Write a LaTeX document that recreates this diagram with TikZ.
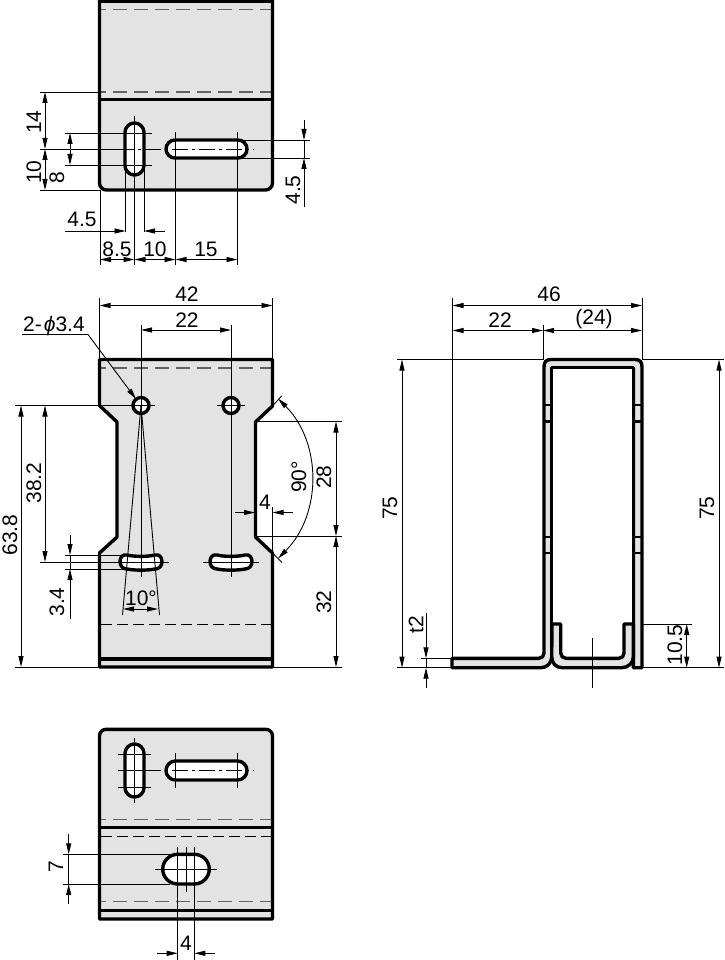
\documentclass[tikz,border=0pt]{standalone}
\usepackage{fontspec}
\setmainfont{Liberation Sans}
\usetikzlibrary{arrows.meta}
\definecolor{plate}{HTML}{E3E3E3}
\tikzset{
  x=1pt,y=-1pt,
  body/.style={fill=plate,draw=none},
  hole/.style={fill=white,draw=none},
  outline/.style={draw=black,line width=3.4pt,line join=round},
  thin/.style={draw=black,line width=0.9pt},
  fold/.style={draw=black!62,line width=1.4pt,dash pattern=on 14pt off 7pt,dash phase=9pt},
  hid/.style={draw=black,line width=0.9pt,dash pattern=on 11pt off 5pt},
  cen/.style={draw=black,line width=0.9pt,dash pattern=on 16pt off 4pt on 3pt off 4pt},
  dimen/.style={draw=black,line width=0.9pt,{Triangle[length=11pt,width=5pt]}-{Triangle[length=11pt,width=5pt]}},
  onehead/.style={draw=black,line width=0.9pt,-{Triangle[length=11pt,width=5pt]}},
  lab/.style={inner sep=0pt,font=\fontsize{21}{21}\selectfont},
  vlab/.style={lab,rotate=90},
}
\newcommand{\bananashape}{(127,555) .. controls (134,556.8) and (148,556.8) .. (155,555) .. controls (159,554) and (162,557) .. (162,561.5) .. controls (162,566) and (159,569) .. (155,569) .. controls (148,570.5) and (134,570.5) .. (127,569) .. controls (123,569) and (120,566) .. (120,561.5) .. controls (120,557) and (123,554) .. (127,555) -- cycle}
\newcommand{\lowerplate}{(99.5,919) -- (99.5,736) .. controls (99.5,732) and (102.5,729.3) .. (106.5,729.3) -- (265.5,729.3) .. controls (269.5,729.3) and (272.5,732) .. (272.5,736) -- (272.5,919) -- cycle}
\begin{document}
\begin{tikzpicture}
\useasboundingbox (0,0) rectangle (724,960);
\fill[white] (0,0) rectangle (724,960);

% ---------- top view ----------
\path[body,rounded corners=7pt] (99.5,-10) -- (99.5,190) -- (272.5,190) -- (272.5,-10) -- cycle;
\path[hole,rounded corners=9.5pt] (125,123) rectangle (144,175);
\path[hole,rounded corners=9pt] (166,140) rectangle (247,158);
\draw[fold] (101,9.5) -- (271,9.5);
\draw[fold] (101,92) -- (271,92);
% extension lines
\draw[thin] (40,92) -- (99,92);
\draw[thin] (40,190) -- (100,190);
\draw[thin] (40,149) -- (118,149);
\draw[cen] (118,149) -- (254,149);
\draw[thin] (65,133) -- (152,133);
\draw[thin] (65,165) -- (152,165);
\draw[thin] (240,140) -- (310,140);
\draw[thin] (240,158) -- (310,158);
\draw[thin] (134.5,116) -- (134.5,265);
\draw[thin] (125.5,170) -- (125.5,232);
\draw[thin] (144,170) -- (144,232);
\draw[thin] (100,190) -- (100,265);
\draw[thin] (175.5,132) -- (175.5,265);
\draw[thin] (237.5,132) -- (237.5,265);
% dimensions
\draw[dimen] (45,92) -- (45,149);
\draw[dimen] (45,149) -- (45,190);
\draw[dimen] (70,133) -- (70,165);
\draw[thin] (304,140) -- (304,158);
\draw[onehead] (304,120) -- (304,140);
\draw[onehead] (304,207) -- (304,158);
\draw[onehead] (65,231) -- (125.5,231);
\draw[onehead] (165,231) -- (144,231);
\draw[dimen] (100,259.5) -- (134.5,259.5);
\draw[dimen] (134.5,259.5) -- (175.5,259.5);
\draw[dimen] (175.5,259.5) -- (237.5,259.5);
\node[vlab] (t14) at (34,122) {14};
\node[vlab] (t10) at (34,172) {10};
\node[vlab] (t8) at (57,178) {8};
\node[vlab] (t45a) at (293,190) {4.5};
\node[lab] (t45b) at (82,219) {4.5};
\node[lab] (t85) at (117,249) {8.5};
\node[lab] (t10b) at (155,249) {10};
\node[lab] (t15) at (206,249) {15};
% outlines
\draw[outline,rounded corners=7pt] (99.5,-10) -- (99.5,190) -- (272.5,190) -- (272.5,-10);
\draw[outline] (98,1.2) -- (274,1.2);
\draw[outline] (99.5,99.5) -- (272.5,99.5);
\draw[outline,rounded corners=9.5pt] (125,123) rectangle (144,175);
\draw[outline,rounded corners=9pt] (166,140) rectangle (247,158);

% ---------- front view ----------
\path[body] (99.5,359.5) -- (99.5,405.5) -- (117,422) -- (117,537) -- (99.5,553) -- (99.5,667) -- (272.5,667) -- (272.5,553) -- (255.5,537) -- (255.5,422) -- (272.5,406) -- (272.5,359.5) -- cycle;
\path[hole] (141,405.5) circle[radius=8];
\path[hole] (231,405.5) circle[radius=8];
\path[hole] \bananashape;
\path[hole,shift={(90,0)}] \bananashape;
\draw[fold] (101,368) -- (271,368);
\draw[hid] (101,624.5) -- (271,624.5);
% centre and extension lines
\draw[thin] (141,325) -- (141,577);
\draw[thin] (231,325) -- (231,577);
\draw[thin] (15,405.5) -- (155,405.5);
\draw[thin] (217,405.5) -- (245,405.5);
\draw[thin] (15,667) -- (100,667);
\draw[thin] (40,562) -- (130,562);
\draw[thin] (65,555) -- (125,555);
\draw[thin] (65,569) -- (125,569);
\draw[thin] (113,562) -- (169,562);
\draw[thin] (203,562) -- (259,562);
\draw[thin] (99.5,298) -- (99.5,359);
\draw[thin] (272.5,298) -- (272.5,359);
\draw[thin] (256,421.5) -- (342,421.5);
\draw[thin] (256,536) -- (342,536);
\draw[thin] (272,667) -- (342,667);
\draw[thin] (272.5,507) -- (272.5,553);
\draw[thin] (141,405.5) -- (122.5,615);
\draw[thin] (141,405.5) -- (159.5,615);
\draw[thin] (272.5,406) -- (281.5,396);
\draw[thin] (272.5,553) -- (282,562.5);
% dimensions
\draw[dimen] (99.5,305.5) -- (272.5,305.5);
\draw[dimen] (141,330) -- (231,330);
\draw[dimen] (21,405.5) -- (21,667);
\draw[dimen] (45,405.5) -- (45,562);
\draw[thin] (70,555) -- (70,569);
\draw[onehead] (70,535) -- (70,555);
\draw[onehead] (70,619) -- (70,569);
\draw[dimen] (123,609) -- (158,609);
\draw[dimen] (336,421.5) -- (336,536);
\draw[dimen] (336,536) -- (336,667);
\draw[onehead] (235,512.5) -- (255,512.5);
\draw[onehead] (293,512.5) -- (272.5,512.5);
\draw[dimen] (278,398.5) .. controls (322,442.7) and (322,514.3) .. (278,558.5);
\draw[thin] (22,334.5) -- (88,334.5);
\coordinate (lead) at (88,334.5);
\coordinate (holeA) at (136,399);
\draw[onehead] (lead) -- (holeA);
\node[lab] (t42) at (187,294) {42};
\node[lab] (t22) at (187,320) {22};
\node[lab,anchor=base west] (tphi) at (23,331) {2-\kern2pt{\itshape ϕ}3.4};
\node[vlab] (t638) at (10,535) {63.8};
\node[vlab] (t382) at (34,483) {38.2};
\node[vlab] (t34) at (57,602) {3.4};
\node[lab] (t10d) at (141,598) {10°};
\node[vlab] (t90) at (299,477) {90°};
\node[vlab] (t28) at (324,477) {28};
\node[vlab] (t32) at (324,602) {32};
\node[lab] (t4) at (265,502) {4};
% outlines
\draw[outline] (99.5,359.5) -- (99.5,405.5) -- (117,422) -- (117,537) -- (99.5,553) -- (99.5,667) -- (272.5,667) -- (272.5,553) -- (255.5,537) -- (255.5,422) -- (272.5,406) -- (272.5,359.5) -- cycle;
\draw[outline] (99.5,659) -- (272.5,659);
\draw[outline] (141,405.5) circle[radius=8];
\draw[outline] (231,405.5) circle[radius=8];
\draw[outline] \bananashape;
\draw[outline,shift={(90,0)}] \bananashape;

% ---------- side section ----------
\draw[thin] (397,359.5) -- (543,359.5);
\draw[thin] (642,359.5) -- (724,359.5);
\draw[thin] (397,667.7) -- (452,667.7);
\draw[thin] (643,667.7) -- (724,667.7);
\draw[thin] (452.5,298) -- (452.5,658);
\draw[thin] (642,298) -- (642,360);
\draw[thin] (543,325) -- (543,360);
\draw[thin] (421,658.3) -- (452,658.3);
\draw[thin] (633,624) -- (692,624);
\draw[dimen] (452.5,305.5) -- (642,305.5);
\draw[dimen] (452.5,330.5) -- (543,330.5);
\draw[dimen] (543,330.5) -- (642,330.5);
\draw[dimen] (402,359.5) -- (402,667.7);
\draw[dimen] (719,359.5) -- (719,667.7);
\draw[thin] (426,658.3) -- (426,667.7);
\draw[onehead] (426,613) -- (426,658.3);
\draw[onehead] (426,688) -- (426,667.7);
\draw[dimen] (686.7,624) -- (686.7,667.7);
\node[lab] (t46) at (549,294) {46};
\node[lab] (t22b) at (500,320) {22};
\node[lab] (t24) at (594,319) {(24)};
\node[vlab] (t75a) at (390,508) {75};
\node[vlab] (t75b) at (707,508) {75};
\node[vlab] (tt2) at (416,625) {t2};
\node[vlab] (t105) at (675,645) {10.5};
\path[outline,fill=plate] (452,658.3) -- (452,667.7) -- (541,667.7) .. controls (547,667.7) and (551.7,663) .. (551.7,657) -- (551.7,367.7) -- (633.3,367.7) -- (633.3,667.7) -- (642,667.7) -- (642,367) .. controls (642,362) and (640,359.5) .. (635,359.5) -- (551,359.5) .. controls (546,359.5) and (544,362) .. (544,367) -- (544,653) .. controls (544,656) and (542,658.3) .. (539,658.3) -- cycle;
\path[fill=white] (553.4,369.4) rectangle (631.6,622);
\path[fill=white] (562.4,622) rectangle (622.3,656.6);
\draw[thin] (592.3,638) -- (592.3,688);
\path[outline,fill=plate] (552,624) -- (560.7,624) -- (560.7,653) .. controls (560.7,656) and (563,658.3) .. (566,658.3) -- (619,658.3) .. controls (622,658.3) and (624,656) .. (624,653) -- (624,624) -- (633.3,624) -- (633.3,657) .. controls (633.3,663) and (628,667.7) .. (622,667.7) -- (562,667.7) .. controls (556,667.7) and (551.7,663) .. (551.7,657) -- cycle;
\draw[thin] (592.3,660) -- (592.3,666);
\foreach \wy in {405,421.5,537,553}{
  \draw[black,line width=2.8pt] (544,\wy) -- (551.7,\wy);
  \draw[black,line width=2.8pt] (633.3,\wy) -- (642,\wy);
}

% ---------- bottom view ----------
\path[body] \lowerplate;
\path[hole,rounded corners=9.5pt] (125,744) rectangle (144,797);
\path[hole,rounded corners=9.5pt] (166,761) rectangle (247,780);
\path[hole,rounded corners=15pt] (162.7,854.3) rectangle (209.3,884);
\draw[fold] (101,819.7) -- (271,819.7);
\draw[hid] (101,836.3) -- (271,836.3);
\draw[fold] (101,901.7) -- (271,901.7);
\draw[thin] (134.5,738) -- (134.5,803);
\draw[thin] (118,754) -- (151,754);
\draw[thin] (118,787) -- (151,787);
\draw[thin] (118,770.5) -- (145,770.5);
\draw[cen] (145,770.5) -- (254,770.5);
\draw[thin] (175.7,753) -- (175.7,788);
\draw[thin] (237,753) -- (237,788);
\draw[thin] (155,869) -- (217,869);
\draw[thin] (186,847) -- (186,892);
\draw[thin] (177.7,847) -- (177.7,960);
\draw[thin] (194.3,847) -- (194.3,960);
\draw[thin] (63,854.3) -- (170,854.3);
\draw[thin] (63,884) -- (170,884);
\draw[thin] (68.7,854.3) -- (68.7,884);
\draw[onehead] (68.7,834) -- (68.7,854.3);
\draw[onehead] (68.7,904) -- (68.7,884);
\draw[onehead] (157,953.3) -- (177.7,953.3);
\draw[onehead] (215,953.3) -- (194.3,953.3);
\node[vlab] (t7) at (56,867) {7};
\node[lab] (t4b) at (186,943) {4};
\draw[outline] \lowerplate;
\draw[outline] (99.5,827.7) -- (272.5,827.7);
\draw[outline] (99.5,910.7) -- (272.5,910.7);
\draw[outline,rounded corners=9.5pt] (125,744) rectangle (144,797);
\draw[outline,rounded corners=9.5pt] (166,761) rectangle (247,780);
\draw[outline,rounded corners=15pt] (162.7,854.3) rectangle (209.3,884);
\end{tikzpicture}
\end{document}
